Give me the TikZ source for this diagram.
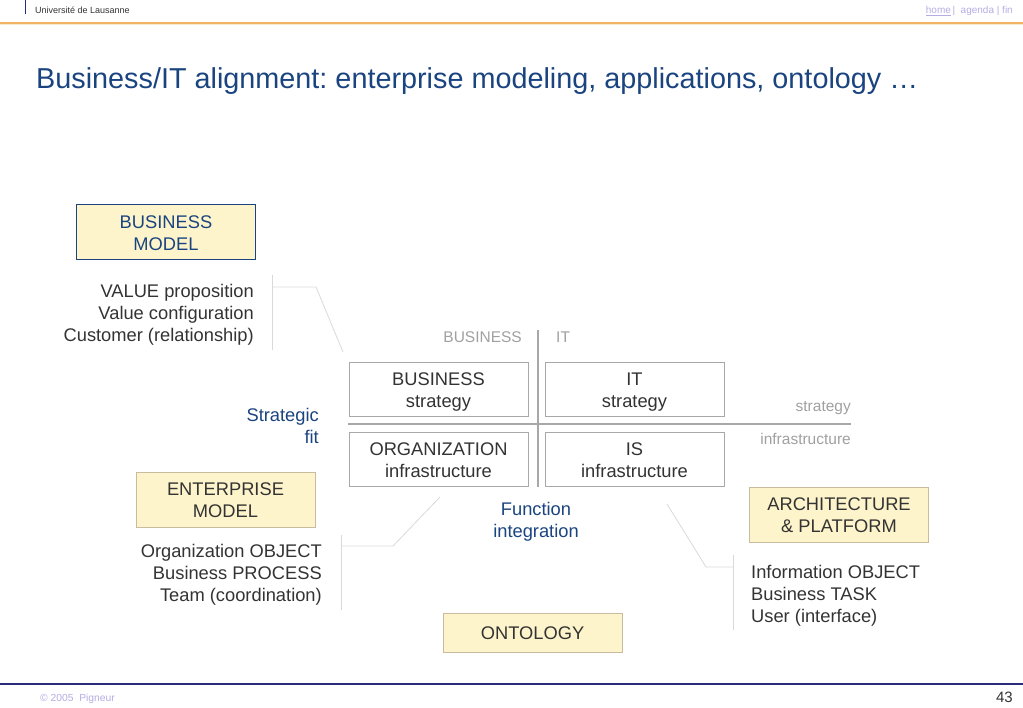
\documentclass[tikz,border=0pt]{standalone}
\usepackage{fontspec}
\setmainfont{Liberation Sans}
\frenchspacing
\definecolor{dblue}{HTML}{1A4480}
\definecolor{ytxt}{HTML}{333333}
\definecolor{yfill}{HTML}{FDF4CB}
\definecolor{yborder}{HTML}{C9BC9E}
\definecolor{gborder}{HTML}{A8A8A8}
\definecolor{glabel}{HTML}{A0A0A0}
\definecolor{bracket}{HTML}{D9D9D9}
\definecolor{lav}{HTML}{B4ACE4}
\definecolor{orangeline}{HTML}{F2B464}
\definecolor{navyline}{HTML}{2B2B7E}
\tikzset{
  body/.style={font=\fontsize{18.3}{22}\selectfont},
  ybox/.style={draw=yborder, fill=yfill, minimum width=179, minimum height=55, inner sep=0, line width=0.8pt},
  gbox/.style={draw=gborder, fill=white, minimum width=179, minimum height=54, inner sep=0, line width=0.8pt},
  btext/.style={body, text=ytxt, inner sep=0, align=center},
  list/.style={body, text=ytxt, inner sep=0},
  blue/.style={body, text=dblue, inner sep=0},
  glab/.style={font=\fontsize{15.5}{18}\selectfont, text=glabel, inner sep=0},
  brk/.style={draw=bracket, line width=0.8pt},
  grid/.style={draw=gborder, line width=1.2pt},
}
\begin{document}
\begin{tikzpicture}[x=1pt,y=-1pt]
\useasboundingbox (0,0) rectangle (1023,708);
% header
\draw[navyline, line width=1pt] (25,0) -- (25,14);
\node[anchor=base west, inner sep=0, text=ytxt, font=\fontsize{9}{11}\selectfont] (uni) at (35,14) {Université de Lausanne};
\node[anchor=base east, inner sep=0, text=lav, font=\fontsize{10}{12}\selectfont] (nav) at (1013,14) {\underline{home}\,|\ \ agenda | fin};
\draw[orangeline, line width=1.5pt] (0,23) -- (1023,23);
\draw[orangeline!30, line width=1pt] (0,24.5) -- (1023,24.5);
% title
\node[anchor=base west, inner sep=0, text=dblue, font=\fontsize{28.8}{33}\selectfont] (title) at (36,89) {Business/IT alignment: enterprise modeling, applications, ontology …};
% business model
\node[ybox, draw=dblue] (bm) at (166,231.5) {};
\node[btext, text=dblue] (bmt) at (166,233.5) {BUSINESS\\MODEL};
\node[list, anchor=east, align=right] (bmlist) at (254,314.5) {VALUE proposition\\Value configuration\\Customer (relationship)};
\coordinate (bm1) at (272,275);
\coordinate (bm2) at (272,350);
\coordinate (bm3) at (272,287);
\coordinate (bm4) at (316,287);
\coordinate (bm5) at (343,352);
\draw[brk] (bm1) -- (bm2);
\draw[brk] (bm3) -- (bm4) -- (bm5);
% grid
\node[glab, anchor=east] (lbus) at (522,337) {BUSINESS};
\node[glab, anchor=west] (lit) at (556,337) {IT};
\coordinate (v1) at (538,330);
\coordinate (v2) at (538,487);
\coordinate (h1) at (348,424);
\coordinate (h2) at (851,424);
\draw[grid] (v1) -- (v2);
\draw[grid] (h1) -- (h2);
\node[gbox] (bs) at (438.5,389) {};
\node[btext] (bst) at (438.5,392) {BUSINESS\\strategy};
\node[gbox] (its) at (634.5,389) {};
\node[btext] (itst) at (634.5,392) {IT\\strategy};
\node[gbox] (oi) at (438.5,459.5) {};
\node[btext] (oit) at (438.5,460.5) {ORGANIZATION\\infrastructure};
\node[gbox] (isi) at (634.5,459.5) {};
\node[btext] (isit) at (634.5,460.5) {IS\\infrastructure};
\node[glab, anchor=east] (lstr) at (851,408) {strategy};
\node[glab, anchor=east] (linf) at (851,439) {infrastructure};
\node[blue, anchor=east, align=right] (sfit) at (319,425.5) {Strategic\\fit};
% enterprise model
\node[ybox] (em) at (225.5,499.5) {};
\node[btext] (emt) at (225.5,500) {ENTERPRISE\\MODEL};
\node[list, anchor=east, align=right] (emlist) at (322,574.5) {Organization OBJECT\\Business PROCESS\\Team (coordination)};
\coordinate (em1) at (341,535);
\coordinate (em2) at (341,610);
\coordinate (em3) at (341,546);
\coordinate (em4) at (393,546);
\coordinate (em5) at (440,497);
\draw[brk] (em1) -- (em2);
\draw[brk] (em3) -- (em4) -- (em5);
% function integration
\node[blue, align=center] (fi) at (536,522) {Function\\integration};
% architecture
\node[ybox] (ap) at (839,514.5) {};
\node[btext] (apt) at (839,515.5) {ARCHITECTURE\\\& PLATFORM};
\node[list, anchor=west, align=left] (aplist) at (751,595.5) {Information OBJECT\\Business TASK\\User (interface)};
\coordinate (ap1) at (733,555);
\coordinate (ap2) at (733,630);
\coordinate (ap3) at (733,567);
\coordinate (ap4) at (706,567);
\coordinate (ap5) at (667,504);
\draw[brk] (ap1) -- (ap2);
\draw[brk] (ap3) -- (ap4) -- (ap5);
% ontology
\node[ybox, minimum height=39] (on) at (532.5,632.5) {};
\node[btext] (ont) at (532.5,633.5) {ONTOLOGY};
% footer
\draw[navyline, line width=1.3pt] (0,684) -- (1023,684);
\node[anchor=base west, inner sep=0, text=lav, font=\fontsize{10.3}{12}\selectfont] (copy) at (40,701) {© 2005\ \ Pigneur};
\node[anchor=base east, inner sep=0, text=ytxt, font=\fontsize{15}{17}\selectfont] (pg) at (1013,702) {43};
\end{tikzpicture}
\end{document}
